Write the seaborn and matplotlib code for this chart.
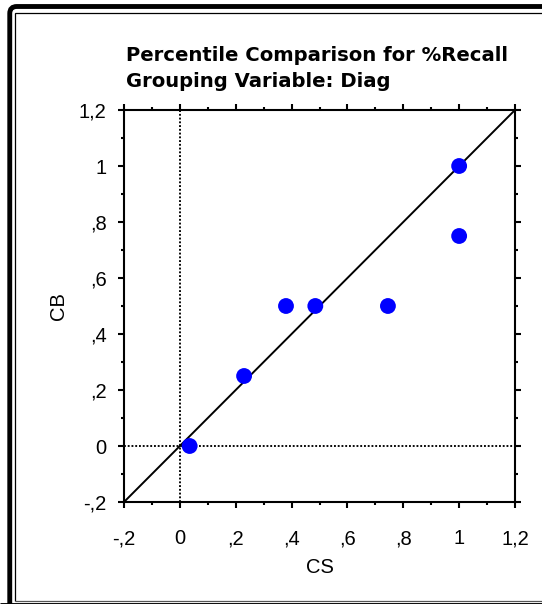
import matplotlib
matplotlib.use("Agg")
import matplotlib.pyplot as plt
from matplotlib.patches import PathPatch
from matplotlib.path import Path
from matplotlib.transforms import IdentityTransform
from matplotlib.ticker import FixedLocator
import seaborn as sns
import pandas as pd

# Percentile values of %Recall for the two diagnostic groups
cs_values = [0.035, 0.23, 0.38, 0.485, 0.745, 1.0, 1.0]
cb_values = [0.0, 0.25, 0.5, 0.5, 0.5, 0.75, 1.0]

tick_values = [-0.2, 0.0, 0.2, 0.4, 0.6, 0.8, 1.0, 1.2]
tick_labels = ["-,2", "0", ",2", ",4", ",6", ",8", "1", "1,2"]
minor_values = [-0.1, 0.1, 0.3, 0.5, 0.7, 0.9, 1.1]
axis_range = [-0.2, 1.2]

title_lines = ["Percentile Comparison for %Recall", "Grouping Variable: Diag"]

sns.set_theme(style="white")
plt.rcParams["font.family"] = ["Liberation Sans", "DejaVu Sans"]

W, H, DPI = 542, 604, 100
fig = plt.figure(figsize=(W / DPI, H / DPI), dpi=DPI)
fig.patch.set_facecolor("white")

# Axes box in pixel terms (top-left origin)
left, right, top, bottom = 124, 515, 110, 502
ax = fig.add_axes([left / W, 1 - bottom / H, (right - left) / W, (bottom - top) / H])
ax.set_facecolor("white")

df = pd.DataFrame({"CS": cs_values, "CB": cb_values})

# Reference lines: identity diagonal and dotted zero lines
ax.plot(axis_range, axis_range, color="black", lw=1.4, zorder=2,
        solid_capstyle="butt")
ax.axvline(0, color="black", lw=1.35, linestyle=(0, (1, 1)), zorder=2)
ax.axhline(0, color="black", lw=1.35, linestyle=(0, (1, 1)), zorder=2)

sns.scatterplot(data=df, x="CS", y="CB", ax=ax, color="#0000ff", s=130,
                edgecolor="none", linewidth=0, zorder=3, clip_on=False)

ax.set_xlim(axis_range)
ax.set_ylim(axis_range)
ax.set_xticks(tick_values)
ax.set_xticklabels(tick_labels)
ax.set_yticks(tick_values)
ax.set_yticklabels(tick_labels)
ax.xaxis.set_minor_locator(FixedLocator(minor_values))
ax.yaxis.set_minor_locator(FixedLocator(minor_values))

for side in ["left", "right", "top", "bottom"]:
    ax.spines[side].set_visible(True)
    ax.spines[side].set_color("black")
    ax.spines[side].set_linewidth(1.5)

ax.tick_params(which="both", direction="out", color="black",
               top=True, right=True, bottom=True, left=True,
               labeltop=False, labelright=False)
ax.tick_params(which="major", length=4.5, width=1.5)
ax.tick_params(which="minor", length=2.2, width=1.5)
ax.tick_params(axis="x", which="major", pad=15, labelsize=14.5, labelcolor="black")
ax.tick_params(axis="y", which="major", pad=8, labelsize=14.5, labelcolor="black")

ax.set_xlabel("CS", fontsize=14.5, color="black", labelpad=7)
ax.set_ylabel("CB", fontsize=14.5, color="black", labelpad=8)

# Two-line heading, left aligned over the plot
fig.text(126 / W, 1 - 61 / H, title_lines[0], fontsize=14.1,
         fontweight="bold", family="DejaVu Sans", color="black",
         ha="left", va="baseline")
fig.text(126 / W, 1 - 87 / H, title_lines[1], fontsize=14.1,
         fontweight="bold", family="DejaVu Sans", color="black",
         ha="left", va="baseline")


def px(x, y):
    """Pixel position measured from the top-left corner -> display coords."""
    return (x, H - y)


# Chart frame: heavy outer border with a rounded top-left corner,
# and a thin inner rule; both run on past the right and bottom edges.
r = 7
outer_verts = [px(9.75, 640), px(9.75, 6.5 + r), px(9.75, 6.5), px(9.75 + r, 6.5),
               px(600, 6.5)]
outer_codes = [Path.MOVETO, Path.LINETO, Path.CURVE3, Path.CURVE3, Path.LINETO]
fig.patches.append(PathPatch(Path(outer_verts, outer_codes), transform=IdentityTransform(),
                             facecolor="none", edgecolor="black", linewidth=3.5))
fig.patches.append(PathPatch(Path([px(0, 604.8), px(600, 604.8)]),
                             transform=IdentityTransform(), facecolor="none",
                             edgecolor="black", linewidth=3.5))
inner_verts = [px(14.6, 600.5), px(14.6, 13), px(600, 13)]
fig.patches.append(PathPatch(Path(inner_verts), transform=IdentityTransform(),
                             facecolor="none", edgecolor="black", linewidth=0.9))
fig.patches.append(PathPatch(Path([px(14.6, 600.5), px(600, 600.5)]),
                             transform=IdentityTransform(), facecolor="none",
                             edgecolor="#555555", linewidth=0.9))

fig.savefig("out.png", dpi=DPI, facecolor="white")
